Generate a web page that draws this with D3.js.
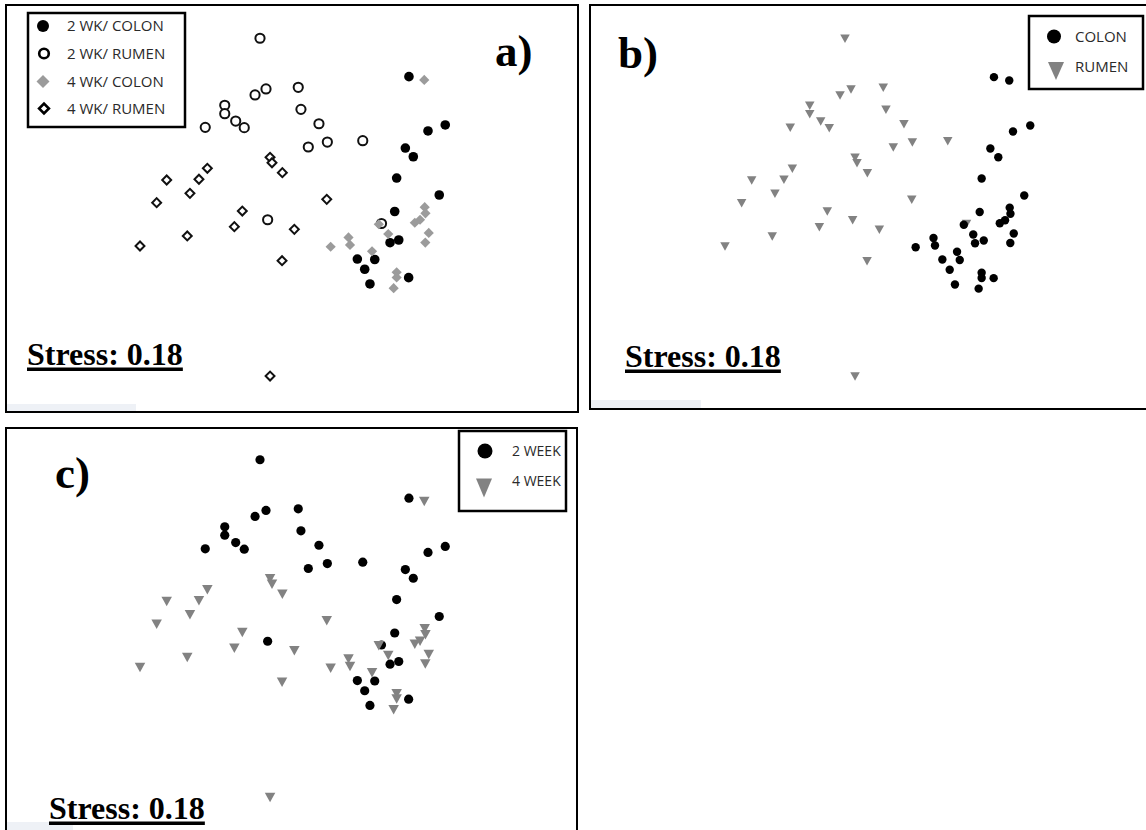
<!DOCTYPE html>
<html><head><meta charset="utf-8">
<script src="https://cdn.jsdelivr.net/npm/d3@7"></script>
<style>body{margin:0;background:#fff}svg{display:block}</style>
</head><body>
<svg id="chart" width="1146" height="830"></svg>
<script>
// NMDS coordinates (NMDS1, NMDS2)
const colon2wk = [[0.793,0.889],[1.035,0.567],[0.920,0.527],[0.769,0.413],[0.822,0.355],[0.711,0.213],[0.995,0.100],[0.698,-0.010],[0.725,-0.200],[0.667,-0.218],[0.449,-0.327],[0.565,-0.330],[0.498,-0.395],[0.533,-0.493],[0.791,-0.451]];
const rumen2wk = [[-0.200,1.145],[-0.233,0.767],[-0.160,0.807],[0.055,0.818],[0.073,0.671],[-0.435,0.698],[-0.435,0.642],[-0.362,0.593],[-0.305,0.549],[-0.565,0.551],[0.193,0.575],[0.249,0.453],[0.122,0.420],[0.485,0.462],[-0.149,-0.065],[0.610,-0.090]];
const colon4wk = [[0.895,0.867],[0.898,0.019],[0.903,-0.022],[0.867,-0.065],[0.832,-0.085],[0.925,-0.153],[0.902,-0.217],[0.592,-0.095],[0.655,-0.160],[0.390,-0.183],[0.400,-0.233],[0.271,-0.245],[0.547,-0.275],[0.711,-0.415],[0.711,-0.450],[0.691,-0.521]];
const rumen4wk = [[-0.133,0.351],[-0.120,0.315],[-0.051,0.249],[-0.551,0.278],[-0.822,0.200],[-0.607,0.205],[-0.667,0.111],[-0.889,0.049],[0.245,0.071],[-0.318,-0.007],[-0.371,-0.111],[-0.685,-0.173],[-1.000,-0.240],[0.029,-0.129],[-0.053,-0.338],[-0.133,-1.107]];

const legendA = ["2 WK/ COLON","2 WK/ RUMEN","4 WK/ COLON","4 WK/ RUMEN"];
const legendB = ["COLON","RUMEN"];
const legendC = ["2 WEEK","4 WEEK"];
const panelLabels = ["a)","b)","c)"];
const stressText = "Stress: 0.18";

const svg = d3.select("#chart");
const x = d3.scaleLinear().domain([-1,1]).range([140,440]);
const y = d3.scaleLinear().domain([-1,1]).range([360,60]);

const GRAY_A = "#9b9b9b", GRAY_B = "#828282";

function triDown(w,h){ // centered downward triangle path
  return `M${-w/2},${-h/2}L${w/2},${-h/2}L0,${h/2}Z`;
}

// ---------- panel frames ----------
const frames = [
  {x:6,y:5,w:572,h:407, fx:6, fy:404, fw:130, fh:7},
  {x:590,y:5,w:600,h:404, fx:591, fy:400, fw:110, fh:8},
  {x:6,y:428,w:571,h:420, fx:7, fy:822, fw:66, fh:8}
];
frames.forEach(f=>{
  svg.append("rect").attr("x",f.fx).attr("y",f.fy).attr("width",f.fw).attr("height",f.fh).attr("fill","#eef1f6");
  svg.append("rect").attr("x",f.x).attr("y",f.y).attr("width",f.w).attr("height",f.h)
    .attr("fill","none").attr("stroke","#000").attr("stroke-width",2);
});

// ---------- panel a ----------
const gA = svg.append("g");
gA.selectAll(".r4").data(rumen4wk).join("path")
  .attr("d", d3.symbol(d3.symbolSquare, 40)())
  .attr("transform", d=>`translate(${x(d[0])},${y(d[1])}) rotate(45)`)
  .attr("fill","#fff").attr("stroke","#111").attr("stroke-width",2);
gA.selectAll(".r2").data(rumen2wk).join("circle")
  .attr("cx",d=>x(d[0])).attr("cy",d=>y(d[1])).attr("r",4.6)
  .attr("fill","#fff").attr("stroke","#111").attr("stroke-width",2);
gA.selectAll(".c2").data(colon2wk).join("circle")
  .attr("cx",d=>x(d[0])).attr("cy",d=>y(d[1])).attr("r",4.8).attr("fill","#000");
gA.selectAll(".c4").data(colon4wk).join("path")
  .attr("d", d3.symbol(d3.symbolSquare, 52)())
  .attr("transform", d=>`translate(${x(d[0])},${y(d[1])}) rotate(45)`)
  .attr("fill",GRAY_A);

// legend a
const lgA = svg.append("g");
lgA.append("rect").attr("x",28).attr("y",13).attr("width",157).attr("height",114)
  .attr("fill","#fff").attr("stroke","#000").attr("stroke-width",2.5);
const rowA = [26,53.5,81.5,108.5];
lgA.append("circle").attr("cx",43).attr("cy",rowA[0]).attr("r",6).attr("fill","#000");
lgA.append("circle").attr("cx",44).attr("cy",rowA[1]).attr("r",4.8).attr("fill","#fff").attr("stroke","#000").attr("stroke-width",2.6);
lgA.append("path").attr("d",d3.symbol(d3.symbolSquare,85)()).attr("transform",`translate(43,${rowA[2]}) rotate(45)`).attr("fill",GRAY_A);
lgA.append("path").attr("d",d3.symbol(d3.symbolSquare,48)()).attr("transform",`translate(44,${rowA[3]}) rotate(45)`).attr("fill","#fff").attr("stroke","#000").attr("stroke-width",2.6);
lgA.selectAll("text").data(legendA).join("text")
  .attr("x",67).attr("y",(d,i)=>rowA[i]).attr("dy","0.36em")
  .attr("font-family","Open Sans, sans-serif").attr("font-size",15).attr("fill","#2a2a2a").text(d=>d);

// ---------- panel b ----------
const gB = svg.append("g").attr("transform","translate(585,0.5)");
gB.selectAll(".rb").data(rumen2wk.concat(rumen4wk)).join("path")
  .attr("d", triDown(9.5,8.5))
  .attr("transform", d=>`translate(${x(d[0])},${y(d[1])})`)
  .attr("fill",GRAY_B);
gB.selectAll(".cb").data(colon2wk.concat(colon4wk)).join("circle")
  .attr("cx",d=>x(d[0])).attr("cy",d=>y(d[1])).attr("r",4.2).attr("fill","#000");

const lgB = svg.append("g");
lgB.append("rect").attr("x",1029).attr("y",16).attr("width",114).attr("height",73)
  .attr("fill","#fff").attr("stroke","#000").attr("stroke-width",2.5);
const rowB = [36.5,67];
lgB.append("circle").attr("cx",1054).attr("cy",rowB[0]).attr("r",7).attr("fill","#000");
lgB.append("path").attr("d",triDown(16,18)).attr("transform",`translate(1056,71)`).attr("fill",GRAY_B);
lgB.selectAll("text").data(legendB).join("text")
  .attr("x",1075).attr("y",(d,i)=>rowB[i]).attr("dy","0.36em")
  .attr("font-family","Open Sans, sans-serif").attr("font-size",15).attr("fill","#2a2a2a").text(d=>d);

// ---------- panel c ----------
const gC = svg.append("g").attr("transform","translate(0,421.5)");
gC.selectAll(".wc2").data(colon2wk.concat(rumen2wk)).join("circle")
  .attr("cx",d=>x(d[0])).attr("cy",d=>y(d[1])).attr("r",4.6).attr("fill","#000");
gC.selectAll(".wc4").data(colon4wk.concat(rumen4wk)).join("path")
  .attr("d", triDown(10.5,9.5))
  .attr("transform", d=>`translate(${x(d[0])},${y(d[1])})`)
  .attr("fill",GRAY_B);

const lgC = svg.append("g");
lgC.append("rect").attr("x",459).attr("y",431).attr("width",107).attr("height",80)
  .attr("fill","#fff").attr("stroke","#000").attr("stroke-width",2.5);
const rowC = [451,481];
lgC.append("circle").attr("cx",485).attr("cy",rowC[0]).attr("r",7.5).attr("fill","#000");
lgC.append("path").attr("d",triDown(16,19)).attr("transform",`translate(484,488)`).attr("fill",GRAY_B);
lgC.selectAll("text").data(legendC).join("text")
  .attr("x",512).attr("y",(d,i)=>rowC[i]).attr("dy","0.36em")
  .attr("font-family","Open Sans, sans-serif").attr("font-size",14).attr("fill","#2a2a2a").text(d=>d);

// ---------- labels ----------
const labelPos = [[495,66],[618,68],[55,488]];
svg.selectAll(".plab").data(panelLabels).join("text")
  .attr("x",(d,i)=>labelPos[i][0]).attr("y",(d,i)=>labelPos[i][1])
  .attr("font-family","Liberation Serif, Times New Roman, serif").attr("font-weight","bold")
  .attr("font-size",45).attr("fill","#000").text(d=>d);

const stressPos = [[27,365],[625,367],[49,819]];
stressPos.forEach(p=>{
  const t = svg.append("text").attr("x",p[0]).attr("y",p[1])
    .attr("font-family","Liberation Serif, Times New Roman, serif").attr("font-weight","bold")
    .attr("font-size",32).attr("fill","#000").text(stressText);
  const w = t.node().getComputedTextLength();
  svg.append("rect").attr("x",p[0]).attr("y",p[1]+2.5).attr("width",w).attr("height",3.5).attr("fill","#000");
});
</script>
</body></html>
